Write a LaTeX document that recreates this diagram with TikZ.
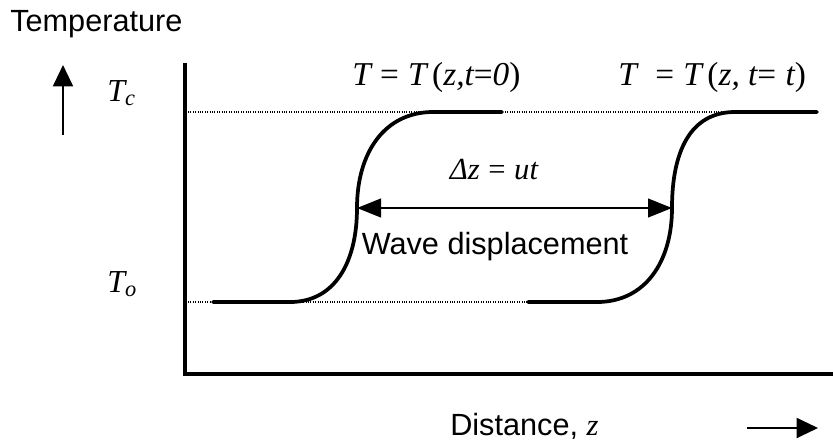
\documentclass[tikz,border=0pt]{standalone}
\usepackage{fontspec}
\setmainfont{Liberation Sans}
\newfontfamily\serifmath{Liberation Serif}
\usetikzlibrary{arrows.meta}
\newcommand{\vi}[1]{{\serifmath\itshape #1}}
\newcommand{\vu}[1]{{\serifmath #1}}

\begin{document}
\begin{tikzpicture}[x=0.75pt,y=-0.75pt,
    axis/.style={line width=2.6pt},
    profile/.style={line width=2.8pt, line cap=round},
    level/.style={line width=0.8pt, densely dotted},
    pointer/.style={-{Triangle[length=16pt,width=15pt]}, line width=1.5pt},
    label/.style={font=\fontsize{23}{27}\selectfont, inner sep=0pt},
    symbol/.style={font=\fontsize{25}{29}\selectfont, inner sep=0pt}]
    \useasboundingbox (0,0) rectangle (833,444);

    % Axes
    \coordinate (ytop) at (185,63);
    \coordinate (origin) at (185,374);
    \coordinate (xend) at (833,374);
    \draw[axis] (ytop) -- (origin) -- (xend);

    % Levels
    \draw[level] (188,112) -- (735,112);
    \draw[level] (188,302) -- (530,302);

    % Profiles
    \draw[profile] (213,302) -- (290,302)
        .. controls (335,302) and (357,262) .. (357,208) coordinate (front0)
        .. controls (357,152) and (385,112) .. (433,112) -- (502,112);
    \draw[profile] (528,302) -- (597,302)
        .. controls (645,302) and (672,262) .. (672,208) coordinate (front1)
        .. controls (672,152) and (690,112) .. (735,112) -- (817,112);

    % Displacement
    \draw[{Triangle[length=18pt,width=14pt]}-{Triangle[length=18pt,width=14pt]}, line width=1.6pt]
        (front0) -- (front1);
    \node[symbol, font=\fontsize{23}{27}\selectfont] (shift) at (494,170) {\vi{Δz} \vu{=} \vi{ut}};
    \node[label] (wave) at (495,247) {Wave displacement};

    % Labels
    \node[label, anchor=base west] (ylabel) at (10,31) {Temperature};
    \node[symbol, font=\fontsize{24}{28}\selectfont, anchor=base west] (tc) at (107,101) {\vi{T\textsubscript{c}}};
    \node[symbol, font=\fontsize{24}{28}\selectfont, anchor=base west] (to) at (107,292) {\vi{T\textsubscript{o}}};
    \node[symbol, anchor=base west] (prof0) at (352,85)
        {\vi{T} \vu{=} \vi{T}\,\vu{(}\vi{z,t}\vu{=}\vi{0}\vu{)}};
    \node[symbol, anchor=base west] (prof1) at (618,85)
        {\vi{T} \ \vu{=} \vi{T}\,\vu{(}\vi{z, t}\vu{=} \vi{t}\vu{)}};
    \node[label, anchor=base west] (xlabel) at (450,435) {Distance, \vi{z}};

    % Directions
    \coordinate (up0) at (63,135);
    \coordinate (up1) at (63,65);
    \draw[pointer] (up0) -- (up1);
    \coordinate (right0) at (747,428);
    \coordinate (right1) at (818,428);
    \draw[pointer] (right0) -- (right1);
\end{tikzpicture}
\end{document}
